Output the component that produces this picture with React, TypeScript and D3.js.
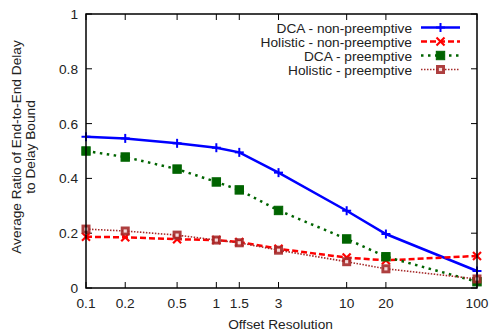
import React from "react";
import * as d3 from "d3";

const offsets = [0.1, 0.2, 0.5, 1, 1.5, 3, 10, 20, 100];
const xTickLabels = ["0.1", "0.2", "0.5", "1", "1.5", "3", "10", "20", "100"];
const yTicks = [0, 0.2, 0.4, 0.6, 0.8, 1];
const yTickLabels = ["0", "0.2", "0.4", "0.6", "0.8", "1"];

const dcaNonPre = [0.552, 0.546, 0.528, 0.512, 0.495, 0.421, 0.282, 0.197, 0.062];
const holNonPre = [0.187, 0.185, 0.178, 0.175, 0.168, 0.143, 0.111, 0.101, 0.117];
const dcaPre = [0.5, 0.478, 0.434, 0.387, 0.358, 0.283, 0.179, 0.114, 0.023];
const holPre = [0.215, 0.208, 0.193, 0.175, 0.165, 0.138, 0.096, 0.07, 0.033];

const seriesNames = [
  "DCA - non-preemptive",
  "Holistic - non-preemptive",
  "DCA - preemptive",
  "Holistic - preemptive",
];

const W = 492, H = 331;
const L = 86, R = 477, T = 14, B = 288;

const FONT = "'Liberation Sans', Arial, sans-serif";
const FS = 13.7;

type Style = { color: string; width: number; dash: string; marker: string };
const styles: Style[] = [
  { color: "#0000ff", width: 2.5, dash: "none", marker: "plus" },
  { color: "#ff0000", width: 2.5, dash: "6,3", marker: "cross" },
  { color: "#006400", width: 2.5, dash: "2.5,4.5", marker: "fsquare" },
  { color: "#a52a2a", width: 1.6, dash: "1.5,1.5", marker: "osquare" },
];

function Marker({ x, y, type, color }: { x: number; y: number; type: string; color: string }) {
  if (type === "plus") {
    return (
      <g stroke={color} strokeWidth={2}>
        <line x1={x - 4.5} x2={x + 4.5} y1={y} y2={y} />
        <line x1={x} x2={x} y1={y - 4.5} y2={y + 4.5} />
      </g>
    );
  }
  if (type === "cross") {
    return (
      <g stroke={color} strokeWidth={2.2}>
        <line x1={x - 4} x2={x + 4} y1={y - 4} y2={y + 4} />
        <line x1={x - 4} x2={x + 4} y1={y + 4} y2={y - 4} />
      </g>
    );
  }
  if (type === "fsquare") {
    return <rect x={x - 4.2} y={y - 4.2} width={8.4} height={8.4} fill={color} stroke={color} strokeWidth={1} />;
  }
  return (
    <g>
      <rect x={x - 4.5} y={y - 4.5} width={9} height={9} fill={color} opacity={0.9} />
      <rect x={x - 1.6} y={y - 1.6} width={3.2} height={3.2} fill="#f4dada" />
    </g>
  );
}

export default function App() {
  const x = d3.scaleLog().domain([0.1, 100]).range([L, R]);
  const y = d3.scaleLinear().domain([0, 1]).range([B, T]);
  const all = [dcaNonPre, holNonPre, dcaPre, holPre];
  const line = d3
    .line<number>()
    .x((_, i) => x(offsets[i]))
    .y((d) => y(d));

  const tickLen = 6;
  const legendX = 412;
  const legendY = [27.5, 41.5, 55.5, 69.5];

  return (
    <svg width={W} height={H} style={{ position: "absolute", left: 0, top: 0 }} fontFamily={FONT}>
      <rect width={W} height={H} fill="#fff" />
      {/* ticks */}
      <g stroke="#000" strokeWidth={1}>
        {yTicks.map((t, i) => (
          <g key={"y" + i}>
            <line x1={L} x2={L + tickLen} y1={y(t)} y2={y(t)} />
            <line x1={R} x2={R - tickLen} y1={y(t)} y2={y(t)} />
          </g>
        ))}
        {offsets.map((t, i) => (
          <g key={"x" + i}>
            <line x1={x(t)} x2={x(t)} y1={B} y2={B - tickLen} />
            <line x1={x(t)} x2={x(t)} y1={T} y2={T + tickLen} />
          </g>
        ))}
      </g>
      {/* tick labels */}
      <g fontSize={FS} fill="#222">
        {yTicks.map((t, i) => (
          <text key={"yl" + i} x={L - 8} y={y(t) + 5} textAnchor="end">
            {yTickLabels[i]}
          </text>
        ))}
        {offsets.map((t, i) => (
          <text key={"xl" + i} x={x(t)} y={B + 19.5} textAnchor="middle">
            {xTickLabels[i]}
          </text>
        ))}
      </g>
      {/* axis titles */}
      <text x={(L + R) / 2 - 1} y={328.5} fontSize={FS} textAnchor="middle" fill="#222">
        Offset Resolution
      </text>
      <g transform={`translate(21, ${(T + B) / 2 - 4}) rotate(-90)`} fontSize={FS} fill="#222">
        <text x={0} y={0} textAnchor="middle">Average Ratio of End-to-End Delay</text>
        <text x={0} y={13.5} textAnchor="middle">to Delay Bound</text>
      </g>
      {/* series */}
      {all.map((vals, si) => {
        const s = styles[si];
        return (
          <g key={"s" + si}>
            <path
              d={line(vals) || ""}
              fill="none"
              stroke={s.color}
              strokeWidth={s.width}
              strokeDasharray={s.dash}
            />
            {vals.map((v, i) => (
              <Marker key={i} x={x(offsets[i])} y={y(v)} type={s.marker} color={s.color} />
            ))}
          </g>
        );
      })}
      {/* legend */}
      {seriesNames.map((name, si) => {
        const s = styles[si];
        const yy = legendY[si];
        return (
          <g key={"lg" + si}>
            <text x={legendX} y={yy + 5} fontSize={FS} textAnchor="end" fill="#222">
              {name}
            </text>
            <line
              x1={421}
              x2={460}
              y1={yy}
              y2={yy}
              stroke={s.color}
              strokeWidth={s.width}
              strokeDasharray={s.dash}
            />
            <Marker x={440.5} y={yy} type={s.marker} color={s.color} />
          </g>
        );
      })}
      {/* frame */}
      <rect x={L} y={T} width={R - L} height={B - T} fill="none" stroke="#000" strokeWidth={1.5} />
    </svg>
  );
}
